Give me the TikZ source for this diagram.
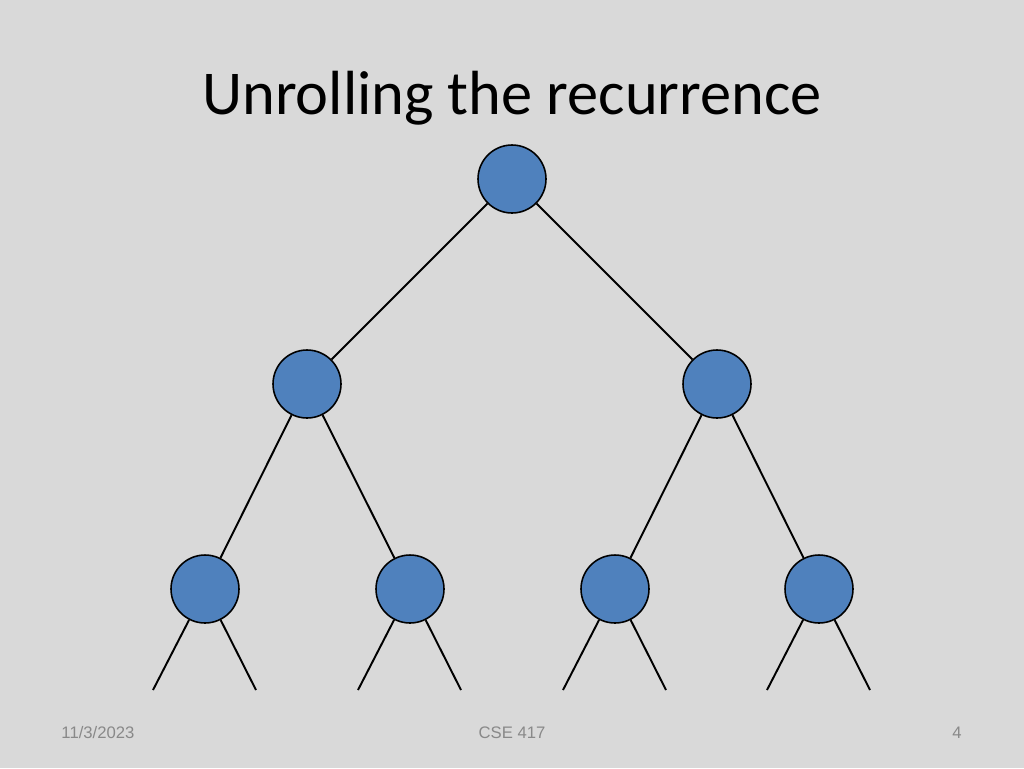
\documentclass[tikz,border=0pt]{standalone}
\usepackage{fontspec}
\setmainfont{Carlito}
\newfontfamily\footfont{Liberation Sans}
\definecolor{nodeblue}{RGB}{79,129,189}
\definecolor{slidegray}{RGB}{217,217,217}
\definecolor{footgray}{RGB}{137,137,137}
\begin{document}
\begin{tikzpicture}[x=0.02cm,y=-0.02cm,
    treenode/.style={circle, draw=black, line width=0.9pt, fill=nodeblue, minimum size=1.36cm, inner sep=0pt},
    edge/.style={line width=1.1pt}]
			% Background
			\fill[slidegray] (0,0) rectangle (1024,768);
			\useasboundingbox (0,0) rectangle (1024,768);

			% Title
			\node (title) at (512,98) {\fontsize{35.5}{40}\selectfont Unrolling the recurrence};

			% Tree nodes
			\node[treenode] (root) at (512,179) {};
			\node[treenode] (l) at (307,384) {};
			\node[treenode] (r) at (717,384) {};
			\node[treenode] (ll) at (205,589) {};
			\node[treenode] (lr) at (410,589) {};
			\node[treenode] (rl) at (615,589) {};
			\node[treenode] (rr) at (819,589) {};

			% Edges
			\draw[edge] (root) -- (l);
			\draw[edge] (root) -- (r);
			\draw[edge] (l) -- (ll);
			\draw[edge] (l) -- (lr);
			\draw[edge] (r) -- (rl);
			\draw[edge] (r) -- (rr);

			% Dangling edges
			\foreach \n/\x in {ll/205, lr/410, rl/615, rr/819} {
				\coordinate (\n a) at (\x-52,690);
				\coordinate (\n b) at (\x+51,690);
				\draw[edge] (\n) -- (\n a);
				\draw[edge] (\n) -- (\n b);
			}

			% Footer
			\node[footgray] (date) at (98,733) {\footfont\fontsize{9.5}{11}\selectfont 11/3/2023};
			\node[footgray] (course) at (512,733) {\footfont\fontsize{9.5}{11}\selectfont CSE 417};
			\node[footgray] (page) at (957,733) {\footfont\fontsize{9.5}{11}\selectfont 4};
		\end{tikzpicture}
\end{document}
